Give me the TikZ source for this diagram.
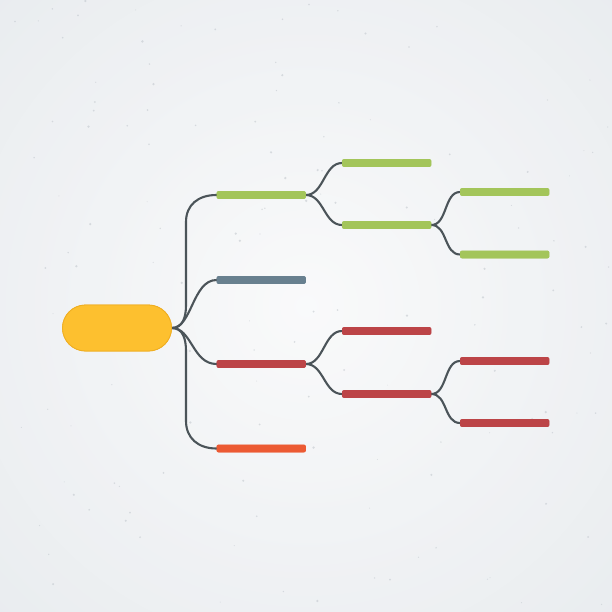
\documentclass[tikz,border=0pt]{standalone}
\usetikzlibrary{shapes.misc}
\definecolor{bgmid}{HTML}{F7F8F9}
\definecolor{bgedge}{HTML}{DDE2E7}
\definecolor{pillfill}{HTML}{FDC02F}
\definecolor{pilledge}{HTML}{EFAE22}
\definecolor{lgreen}{HTML}{A3C55A}
\definecolor{lslate}{HTML}{68808F}
\definecolor{lred}{HTML}{BC4447}
\definecolor{lorange}{HTML}{EC5A33}
\definecolor{linkc}{HTML}{4B5459}
\definecolor{speck}{HTML}{BFC5CB}
\tikzset{
  bar/.style={rectangle, rounded corners=2pt, minimum width=89pt, minimum height=7.5pt, inner sep=0pt, draw=none, anchor=west},
  link/.style={draw=linkc, line width=2.1pt, line cap=round},
  pill/.style={rounded rectangle, minimum width=109pt, minimum height=46pt, inner sep=0pt, fill=pillfill, draw=pilledge, line width=0.8pt}
}
\begin{document}
\begin{tikzpicture}[x=1pt,y=-1pt]
\useasboundingbox (0,0) rectangle (612,612);
% background
\shade[inner color=bgmid, outer color=bgedge] (-150,-150) rectangle (762,762);
\fill[white, opacity=0.35] (0,0) rectangle (612,612);
\pgfmathsetseed{42}
\foreach \i in {1,...,140}{
  \pgfmathsetmacro{\sx}{rnd*612}
  \pgfmathsetmacro{\sy}{rnd*612}
  \pgfmathsetmacro{\sr}{0.4+rnd*0.9}
  \fill[speck, opacity=0.55] (\sx,\sy) circle (\sr pt);
}
% nodes
\node[pill] (root) at (117,328) {};
\node[bar, fill=lgreen] (g1) at (216.5,195) {};
\node[bar, fill=lslate] (s1) at (216.5,280) {};
\node[bar, fill=lred] (r1) at (216.5,364) {};
\node[bar, fill=lorange] (o1) at (216.5,448.5) {};
\node[bar, fill=lgreen] (g2a) at (342,163) {};
\node[bar, fill=lgreen] (g2b) at (342,225) {};
\node[bar, fill=lgreen] (g3a) at (460,192) {};
\node[bar, fill=lgreen] (g3b) at (460,254.5) {};
\node[bar, fill=lred] (r2a) at (342,331) {};
\node[bar, fill=lred] (r2b) at (342,394) {};
\node[bar, fill=lred] (r3a) at (460,361) {};
\node[bar, fill=lred] (r3b) at (460,423) {};
\coordinate (tt) at (186,305);
\coordinate (tb) at (186,351);
% connectors from root
\begin{scope}[on background layer/.style={}]
\draw[link] (root.east) .. controls ++(11,0) and ++(0,12) .. (tt) -- (186,222) .. controls (186,205) and (198,195) .. (g1.west);
\draw[link] (root.east) .. controls ++(11,0) and ++(0,-12) .. (tb) -- (186,421) .. controls (186,438) and (198,448.5) .. (o1.west);
\draw[link] (root.east) .. controls ++(20,0) and ++(-24,0) .. (s1.west);
\draw[link] (root.east) .. controls ++(20,0) and ++(-24,0) .. (r1.west);
\draw[link] (g1.east) .. controls ++(18,0) and ++(-18,0) .. (g2a.west);
\draw[link] (g1.east) .. controls ++(18,0) and ++(-18,0) .. (g2b.west);
\draw[link] (g2b.east) .. controls ++(16,0) and ++(-16,0) .. (g3a.west);
\draw[link] (g2b.east) .. controls ++(16,0) and ++(-16,0) .. (g3b.west);
\draw[link] (r1.east) .. controls ++(18,0) and ++(-18,0) .. (r2a.west);
\draw[link] (r1.east) .. controls ++(18,0) and ++(-18,0) .. (r2b.west);
\draw[link] (r2b.east) .. controls ++(16,0) and ++(-16,0) .. (r3a.west);
\draw[link] (r2b.east) .. controls ++(16,0) and ++(-16,0) .. (r3b.west);
\end{scope}
% redraw nodes on top
\node[pill] at (root.center) {};
\foreach \n/\c in {g1/lgreen,s1/lslate,r1/lred,o1/lorange,g2a/lgreen,g2b/lgreen,g3a/lgreen,g3b/lgreen,r2a/lred,r2b/lred,r3a/lred,r3b/lred}{
  \fill[\c, rounded corners=2pt] (\n.south west) rectangle (\n.north east);
}
\end{tikzpicture}
\end{document}
